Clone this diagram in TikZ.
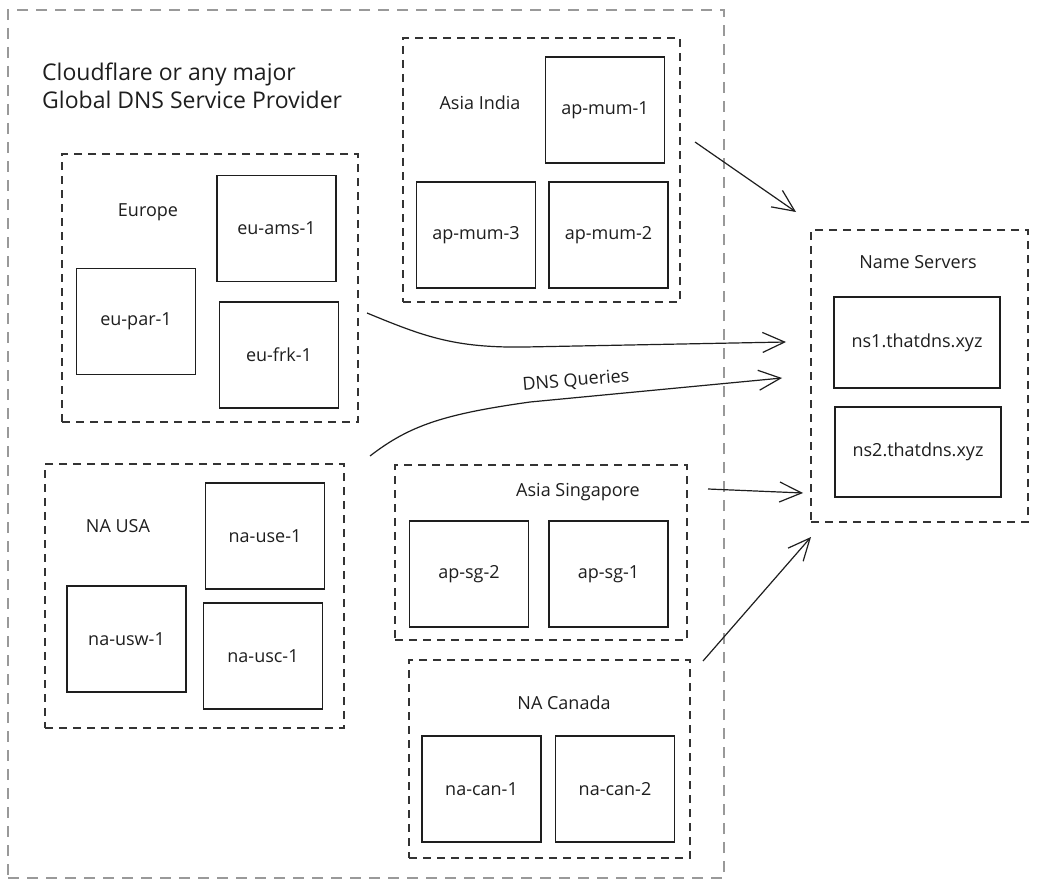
\documentclass[tikz,border=0pt]{standalone}
\usepackage{fontspec}
\setmainfont{Open Sans}
\usetikzlibrary{arrows.meta,calc}
\definecolor{ink}{HTML}{1E1E1E}
\definecolor{groupline}{HTML}{333333}
\definecolor{outerline}{HTML}{999999}
\tikzset{
  server/.style={draw=ink, line width=1.3pt, fill=white, inner sep=0pt,
    font=\fontsize{18}{22}\selectfont, text=ink},
  srvstd/.style={server, minimum width=119pt, minimum height=106pt},
  nsbox/.style={server, minimum width=166pt, minimum height=91pt},
  groupbox/.style={draw=groupline, line width=1.2pt, dash pattern=on 8pt off 6pt, inner sep=0pt},
  outerbox/.style={draw=outerline, line width=1.2pt, dash pattern=on 11pt off 8pt, inner sep=0pt},
  grouplabel/.style={font=\fontsize{18}{22}\selectfont, text=ink, inner sep=0pt},
  flow/.style={draw=ink, line width=1.2pt, -{Straight Barb[length=22pt,width=20pt,line width=1.2pt]}}
}
\begin{document}
\begin{tikzpicture}[x=1pt,y=-1pt]
\useasboundingbox (0,0) rectangle (1038,888);
\fill[white] (0,0) rectangle (1038,888);

% provider frame and its title
\node[outerbox, minimum width=716pt, minimum height=868pt] (provider) at (366,444) {};
\node[grouplabel, font=\fontsize{23}{28}\selectfont, align=left, anchor=west] (title) at (42,86)
  {Cloudflare or any major\\Global DNS Service Provider};

% regional groups
\node[groupbox, minimum width=277pt, minimum height=264pt] (india) at (541.5,170) {};
\node[groupbox, minimum width=296pt, minimum height=268pt] (europe) at (210,288) {};
\node[groupbox, minimum width=299pt, minimum height=264pt] (usa) at (194.5,596) {};
\node[groupbox, minimum width=292pt, minimum height=175pt] (sg) at (541,552.5) {};
\node[groupbox, minimum width=281pt, minimum height=198pt] (canada) at (549.5,759) {};
\node[groupbox, minimum width=217pt, minimum height=292pt] (nsgroup) at (919.5,376) {};

\node[grouplabel] (lindia) at (480,103) {Asia India};
\node[grouplabel] (leurope) at (148,212) {Europe};
\node[grouplabel] (lusa) at (118,526) {NA USA};
\node[grouplabel] (lsg) at (578,492) {Asia Singapore};
\node[grouplabel] (lcanada) at (564,703) {NA Canada};
\node[grouplabel] (lns) at (918,262) {Name Servers};

% servers
\node[srvstd] (apmum1) at (605,110) {ap-mum-1};
\node[srvstd] (apmum3) at (476,235) {ap-mum-3};
\node[srvstd] (apmum2) at (608.5,235) {ap-mum-2};
\node[srvstd] (euams1) at (276.5,228.5) {eu-ams-1};
\node[srvstd] (eupar1) at (136,321.5) {eu-par-1};
\node[srvstd] (eufrk1) at (279,355) {eu-frk-1};
\node[srvstd] (nause1) at (265,536) {na-use-1};
\node[srvstd] (nausw1) at (126.5,639) {na-usw-1};
\node[srvstd] (nausc1) at (263,656) {na-usc-1};
\node[srvstd] (apsg2) at (469,574) {ap-sg-2};
\node[srvstd] (apsg1) at (608.5,574) {ap-sg-1};
\node[srvstd] (nacan1) at (481.5,789) {na-can-1};
\node[srvstd] (nacan2) at (615,789) {na-can-2};
\node[nsbox] (ns1) at (917,342.5) {ns1.thatdns.xyz};
\node[nsbox, minimum height=90pt] (ns2) at (918,452) {ns2.thatdns.xyz};

% arrow ends
\coordinate (indiaout) at (695,142);
\coordinate (indiain) at (796,212);
\coordinate (euout) at (367,313);
\coordinate (euin) at (786,342);
\coordinate (usout) at (370,456);
\coordinate (usin) at (782,378);
\coordinate (sgout) at (708,489);
\coordinate (sgin) at (803,493);
\coordinate (canout) at (703,661);
\coordinate (canin) at (811,537);

% query flows
\draw[flow] (indiaout) -- (indiain);
\draw[flow] (euout) .. controls (425,337) and (455,348) .. (525,347) -- (euin);
\draw[flow] (usout) .. controls (410,425) and (445,414) .. (530,402) -- (usin);
\draw[flow] (sgout) -- (sgin);
\draw[flow] (canout) -- (canin);
\node[grouplabel, rotate=5] (queries) at (576,381) {DNS Queries};
\end{tikzpicture}
\end{document}
